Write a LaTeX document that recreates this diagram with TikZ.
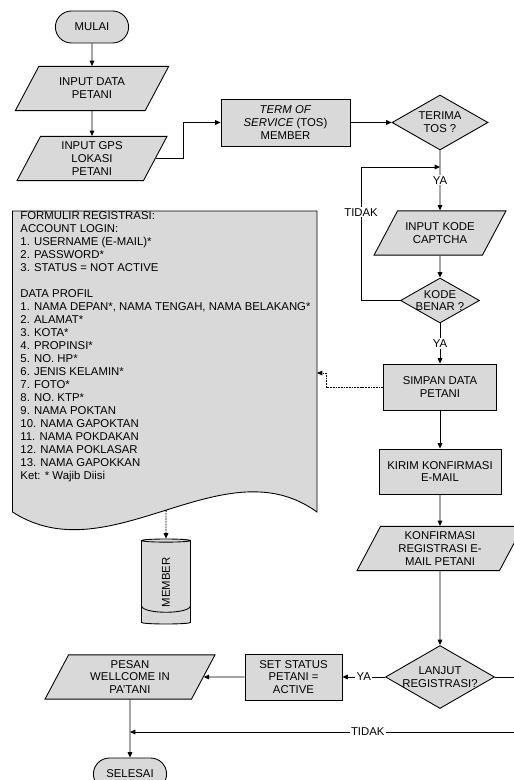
\documentclass[tikz,border=0pt]{standalone}
\usepackage{fontspec}
\setmainfont{Liberation Sans}
\usepackage{xcolor}
\usetikzlibrary{arrows.meta, positioning, shapes.geometric, shapes.misc, calc}
\definecolor{boxgray}{RGB}{217,217,217}

\begin{document}
\begin{tikzpicture}[x=0.3mm, y=-0.3mm, line width=0.75pt,
  every node/.style={font=\fontsize{9.7}{11}\selectfont},
  term/.style={draw, fill=boxgray, rounded rectangle, minimum width=2.43cm, minimum height=0.96cm},
  io/.style={draw, fill=boxgray, trapezium, trapezium left angle=62, trapezium right angle=118, trapezium stretches body, align=center, inner xsep=1pt, inner ysep=4.5pt},
  proc/.style={draw, fill=boxgray, rectangle, minimum height=1.38cm, align=center, inner sep=1pt},
  dec/.style={draw, fill=boxgray, diamond, inner sep=0pt},
  arr/.style={-{Triangle[length=1.6mm, width=1.4mm]}},
  darr/.style={arr, dash pattern=on 1.5pt off 0.8pt},
  lbl/.style={fill=white, inner sep=1pt}
]
  \useasboundingbox (0,0) rectangle (513,780);

  % alur utama kiri
  \node[term] (mulai) at (92,27) {MULAI};
  \node[io, minimum width=4.6cm, inner ysep=10pt] (data) at (92,88.5) {INPUT DATA\\PETANI};
  \node[io, minimum width=4.5cm] (gps) at (92,158.5) {INPUT GPS\\LOKASI\\PETANI};

  % alur kanan
  \node[proc, minimum width=3.87cm, minimum height=1.41cm] (tos) at (285.5,122.5) {\textit{TERM OF}\\\textit{SERVICE} (TOS)\\MEMBER};
  \node[dec, minimum width=2.88cm, minimum height=1.65cm, label={[align=center]center:TERIMA\\TOS ?}] (terima) at (440,122.5) {};
  \node[io, minimum width=3.96cm, inner ysep=10pt] (captcha) at (440,233) {INPUT KODE\\CAPTCHA};
  \node[dec, minimum width=2.37cm, minimum height=1.35cm, label={[align=center]center:KODE\\BENAR ?}] (kode) at (440,300.5) {};
  \node[proc, minimum width=3.39cm] (simpan) at (440,387) {SIMPAN DATA\\PETANI};
  \node[proc, minimum width=3.66cm, minimum height=1.35cm] (kirim) at (440,471.5) {KIRIM KONFIRMASI\\E-MAIL};
  \node[io, minimum width=4.98cm] (konfirmasi) at (440,548.5) {KONFIRMASI\\REGISTRASI E-\\MAIL PETANI};
  \node[dec, minimum width=3.27cm, minimum height=1.89cm, label={[align=center]center:LANJUT\\REGISTRASI?}] (lanjut) at (440,677) {};

  % alur bawah
  \node[proc, minimum width=2.91cm] (status) at (293.5,677) {SET STATUS\\PETANI =\\ACTIVE};
  \node[io, minimum width=5.1cm] (pesan) at (130,677) {PESAN\\WELLCOME IN\\PA'TANI};
  \node[term] (selesai) at (130,774) {SELESAI};

  % formulir registrasi (dokumen)
  \draw[fill=boxgray] (12.5,211) -- (317,211) -- (317,512)
    .. controls (223,444) and (110,575) .. coordinate[pos=0.5] (docbot) (12.5,512) -- cycle;
  \node[anchor=north west, align=left, inner sep=0pt, font=\fontsize{9.7}{11.1}\selectfont] (formulir) at (20,211) {FORMULIR REGISTRASI:\\
    ACCOUNT LOGIN:\\
    1. USERNAME (E-MAIL)*\\
    2. PASSWORD*\\
    3. STATUS = NOT ACTIVE\\[11.1pt]
    DATA PROFIL\\
    1. NAMA DEPAN*, NAMA TENGAH, NAMA BELAKANG*\\
    2. ALAMAT*\\
    3. KOTA*\\
    4. PROPINSI*\\
    5. NO. HP*\\
    6. JENIS KELAMIN*\\
    7. FOTO*\\
    8. NO. KTP*\\
    9. NAMA POKTAN\\
    10. NAMA GAPOKTAN\\
    11. NAMA POKDAKAN\\
    12. NAMA POKLASAR\\
    13. NAMA GAPOKKAN\\
    Ket: * Wajib Diisi};

  % database member
  \node[draw, fill=boxgray, cylinder, rotate=90, minimum width=1.47cm, minimum height=2.55cm, aspect=0.4, inner sep=0pt] (member) at (166,582.5) {MEMBER};
  \draw ($(member.center)+(-24.5,23)$) .. controls +(0,9) and +(0,9) .. ($(member.center)+(24.5,23)$);

  \coordinate (loop1) at (440,167);
  \coordinate (docin) at (317,373);
  \coordinate (loop2) at (130,732);

  \draw[arr] (mulai) -- (data);
  \draw[arr] (data) -- (gps);
  \draw[arr] (gps.east) -- ++(28,0) |- (tos.west);
  \draw[arr] (tos) -- (terima);
  \draw[arr] (terima) -- node[lbl]{YA} (captcha);
  \draw[arr] (captcha) -- (kode);
  \draw[arr] (kode.west) -- ++(-39,0) |- node[lbl, pos=0.33]{TIDAK} (loop1);
  \draw[arr] (kode) -- node[lbl]{YA} (simpan);
  \draw[darr] (simpan.west) -- ++(-57,0) |- (docin);
  \draw[darr] (docbot) -- (member.east);
  \draw[arr] (simpan) -- (kirim);
  \draw[arr] (kirim) -- (konfirmasi);
  \draw[arr] (konfirmasi) -- (lanjut);
  \draw[arr] (lanjut) -- node[lbl]{YA} (status);
  \draw[arr] (status) -- (pesan);
  \draw[arr] (pesan) -- (selesai);
  \draw[arr] (lanjut.east) -- ++(45,0) |- node[lbl, pos=0.71]{TIDAK} (loop2);
\end{tikzpicture}
\end{document}
